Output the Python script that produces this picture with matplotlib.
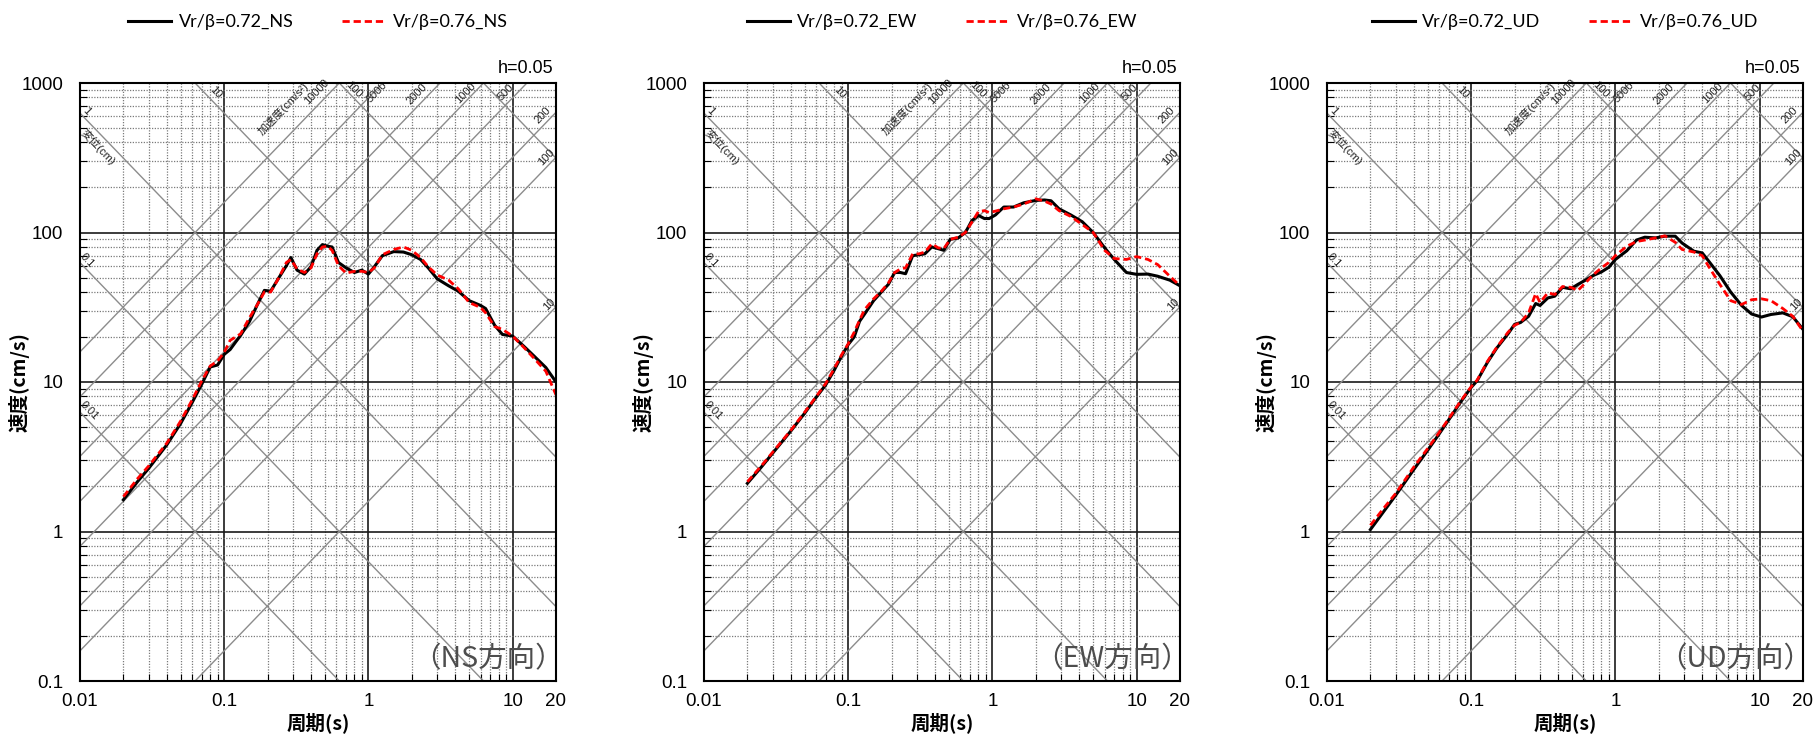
import numpy as np
import matplotlib
matplotlib.use("Agg")
import matplotlib.pyplot as plt
from matplotlib.ticker import FixedLocator, FixedFormatter, LogLocator, NullFormatter

plt.rcParams['font.family'] = ['Liberation Sans', 'Noto Sans CJK JP', 'DejaVu Sans']

# pseudo velocity response spectra, period (s) / velocity (cm/s)
ns_t = [0.02, 0.025, 0.03, 0.04, 0.05, 0.06, 0.07, 0.08, 0.09, 0.1, 0.11, 0.12, 0.13, 0.15, 0.17,
        0.19, 0.21, 0.24, 0.27, 0.29, 0.32, 0.36, 0.4, 0.44, 0.48, 0.52, 0.56, 0.62, 0.7, 0.8,
        0.9, 1.0, 1.1, 1.25, 1.5, 1.75, 2.0, 2.3, 2.6, 3.0, 3.6, 4.2, 5.0, 6.0, 6.5,
        7.5, 8.5, 10, 12, 14, 17, 20]
ns_v072 = [1.63, 2.15, 2.65, 3.8, 5.3, 7.3, 9.7, 12.6, 13.0, 15.3, 16.5, 18.5, 20.5, 25.5, 33,
           41, 40.5, 50, 60, 68, 56, 52.7, 59, 76, 83, 81, 80, 63, 58, 54,
           56, 52.7, 59, 70, 74.5, 74, 71, 66, 58, 49, 44, 40.5, 35, 32.5, 31,
           24, 20.8, 20.3, 17.3, 15, 12.5, 10]
ns_v076 = [1.71, 2.25, 2.75, 3.9, 5.5, 7.6, 10.2, 12.8, 13.8, 15.8, 19, 20, 21, 27, 33,
           40, 40, 50, 63, 66, 57, 54, 58, 72, 80, 81, 76, 60, 53.5, 55,
           55, 54, 58, 71, 77, 80, 76, 68, 59, 52, 48, 42, 34, 31.5, 29,
           23.5, 22.5, 20.3, 17, 14.5, 11.8, 8.2]

ew_t = [0.02, 0.025, 0.03, 0.04, 0.05, 0.06, 0.07, 0.08, 0.09, 0.1, 0.11, 0.12, 0.13, 0.15, 0.17,
        0.19, 0.21, 0.23, 0.25, 0.28, 0.31, 0.34, 0.38, 0.42, 0.46, 0.51, 0.58, 0.65, 0.72, 0.8,
        0.88, 0.95, 1.05, 1.2, 1.4, 1.65, 2.0, 2.3, 2.55, 2.9, 3.5, 4.2, 5.0, 6.0, 7.0,
        8.5, 10, 12, 14, 17, 20]
ew_v072 = [2.1, 2.7, 3.35, 4.7, 6.2, 7.9, 9.6, 12.0, 14.9, 17.8, 20, 25.5, 28.5, 35, 40,
           45, 54, 54, 53, 70, 71, 72, 80, 78, 76, 90, 92, 100, 120, 130,
           124, 124, 131, 148, 148, 158, 164, 165, 163, 144, 131, 118, 100, 79, 66,
           54, 52.5, 52.7, 51, 48, 44]
ew_v076 = [2.15, 2.75, 3.4, 4.75, 6.3, 8.0, 9.8, 12.3, 15.2, 18, 21.5, 26, 30.5, 36, 40.5,
           46, 54, 57, 58, 72, 72, 74, 84, 79, 78, 90, 93, 100, 117, 138,
           140, 136, 139, 144, 148, 155, 168, 162, 155, 140, 128, 113, 100, 76, 67,
           66, 69, 66, 61, 51, 44]

ud_t = [0.02, 0.025, 0.03, 0.04, 0.05, 0.06, 0.07, 0.08, 0.09, 0.1, 0.11, 0.13, 0.15, 0.18, 0.2,
        0.22, 0.25, 0.28, 0.3, 0.34, 0.38, 0.43, 0.49, 0.55, 0.62, 0.7, 0.8, 0.9, 1.0, 1.2,
        1.4, 1.6, 1.9, 2.2, 2.6, 2.9, 3.5, 4.0, 4.4, 5.3, 6.3, 7.5, 8.8, 10.3, 12,
        14.5, 17, 20]
ud_v072 = [1.03, 1.38, 1.75, 2.6, 3.5, 4.5, 5.6, 6.8, 8.0, 9.2, 10.2, 13.6, 16.8, 21, 24.3,
           25, 27.5, 33.5, 32.5, 36.5, 37.5, 43, 42, 45, 48, 51.5, 54.5, 58.5, 66, 75.5,
           89, 93, 92, 94.5, 94.5, 85, 75, 73, 65, 51.5, 40, 32.5, 28.5, 27.2, 28.3,
           29, 27.3, 22.5]
ud_v076 = [1.1, 1.45, 1.8, 2.7, 3.6, 4.6, 5.7, 6.9, 8.1, 9.3, 10.3, 13.8, 17, 21.5, 24,
           25, 29, 39, 34, 39.5, 38.5, 43.5, 43, 41, 46, 52, 58, 63, 70, 81,
           87, 89, 92, 95, 86, 77, 74, 70, 60, 45, 35, 33, 35.5, 36, 35,
           31, 27.5, 21.9]

# tripartite guide lines
disp_lines = [0.01, 0.1, 1, 10, 100, 1000]               # cm
acc_lines = [10, 100, 200, 500, 1000, 2000, 5000, 10000]  # cm/s2

# line labels: value, offset in px from where the line enters the frame (right, down)
disp_left_labels = [(1, 6, -2), (0.1, 7, -2), (0.01, 9, -2)]
disp_top_labels = [(10, 20, 9), (100, 14, 7)]
acc_top_labels = [(10000, -23, 9), (5000, -6, 9), (2000, -23, 11), (1000, -18, 10), (500, -21, 9)]
acc_right_labels = [(200, -13, 3), (100, -10, 0), (10, -7, -2)]

x_ticks = [0.01, 0.1, 1, 10, 20]
x_labels = ['0.01', '0.1', '1', '10', '20']
y_ticks = [0.1, 1, 10, 100, 1000]
y_labels = ['0.1', '1', '10', '100', '1000']

panels = [('NS', ns_t, ns_v072, ns_v076),
          ('EW', ew_t, ew_v072, ew_v076),
          ('UD', ud_t, ud_v072, ud_v076)]

W, H = 1815, 734
ax_left = [80, 704, 1327]
ax_w, ax_b, ax_h = 476, 53, 598
dec_x = ax_w / np.log10(2000)
dec_y = ax_h / 4
ang = np.degrees(np.arctan(dec_y / dec_x))


def v_disp(d, t):
    return 2 * np.pi * d / np.asarray(t, dtype=float)


def v_acc(a, t):
    return a * np.asarray(t, dtype=float) / (2 * np.pi)


def put_label(ax, text, t, v, dx, dy, rot, size=8):
    # dx, dy in pixels (right, down) from the point (t, v)
    ax.text(t * 10 ** (dx / dec_x), v / 10 ** (dy / dec_y), text, ha='center', va='center',
            rotation=rot, rotation_mode='anchor', fontsize=size, color='#222222',
            clip_on=False, zorder=3)


fig = plt.figure(figsize=(W / 100, H / 100), dpi=100)
t_edge = np.array([0.01, 20.0])

for left, (comp, t, v72, v76) in zip(ax_left, panels):
    ax = fig.add_axes([left / W, ax_b / H, ax_w / W, ax_h / H])
    ax.set_xscale('log')
    ax.set_yscale('log')
    ax.set_xlim(0.01, 20)
    ax.set_ylim(0.1, 1000)

    for d in disp_lines:
        ax.plot(t_edge, v_disp(d, t_edge), color='#8c8c8c', lw=1.0, zorder=1.5)
    for a in acc_lines:
        ax.plot(t_edge, v_acc(a, t_edge), color='#8c8c8c', lw=1.0, zorder=1.5)

    for d, dx, dy in disp_left_labels:
        put_label(ax, f'{d:g}', 0.01, v_disp(d, 0.01), dx, dy, -ang)
    for d, dx, dy in disp_top_labels:
        te = 2 * np.pi * d / 1000
        put_label(ax, f'{d:g}', te, 1000, dx, dy, -ang)
    put_label(ax, '変位(cm)', 0.01, v_disp(1, 0.01), 18, 34, -ang)
    for a, dx, dy in acc_top_labels:
        te = 2 * np.pi * 1000 / a
        put_label(ax, f'{a:g}', te, 1000, dx, dy, ang)
    for a, dx, dy in acc_right_labels:
        put_label(ax, f'{a:g}', 20, v_acc(a, 20), dx, dy, ang)
    put_label(ax, '加速度(cm/s²)', 2 * np.pi * 1000 / 10000, 1000, -56, 26, ang)

    h1, = ax.plot(t, v72, color='black', lw=2.2, zorder=4, label=f'Vr/β=0.72_{comp}')
    h2, = ax.plot(t, v76, color='red', lw=2.0, ls=(0, (2.6, 1.4)), zorder=5,
                  label=f'Vr/β=0.76_{comp}')

    ax.xaxis.set_major_locator(FixedLocator(x_ticks))
    ax.xaxis.set_major_formatter(FixedFormatter(x_labels))
    ax.yaxis.set_major_locator(FixedLocator(y_ticks))
    ax.yaxis.set_major_formatter(FixedFormatter(y_labels))
    ax.xaxis.set_minor_locator(LogLocator(base=10, subs=np.arange(2, 10)))
    ax.yaxis.set_minor_locator(LogLocator(base=10, subs=np.arange(2, 10)))
    ax.xaxis.set_minor_formatter(NullFormatter())
    ax.yaxis.set_minor_formatter(NullFormatter())

    ax.set_axisbelow(True)
    ax.grid(which='minor', color='#7a7a7a', lw=0.9, ls=(0, (1, 1.2)))
    ax.grid(which='major', color='#1a1a1a', lw=1.2)
    ax.tick_params(which='major', length=0, labelsize=13.5)
    ax.tick_params(axis='x', which='major', pad=9)
    ax.tick_params(axis='y', which='major', pad=12)
    ax.tick_params(which='minor', direction='in', length=5, width=0.8)
    for s in ax.spines.values():
        s.set_linewidth(1.5)
        s.set_zorder(6)

    ax.set_xlabel('周期(s)', family=['Noto Sans CJK JP'], fontsize=14,
                  fontweight='bold', labelpad=1)
    ax.set_ylabel('速度(cm/s)', family=['Noto Sans CJK JP'], fontsize=14,
                  fontweight='bold')
    ax.yaxis.set_label_coords(-0.105, 0.5)

    ax.annotate('h=0.05', (1, 1), xycoords='axes fraction', xytext=(-3, 10),
                textcoords='offset pixels', ha='right', va='baseline', fontsize=13)
    ax.text(0.858, 0.036, f'（{comp}方向）', transform=ax.transAxes, ha='center',
            va='center', fontsize=20.5, color='#4d4d4d', family=['Noto Sans CJK JP'],
            zorder=7)

    fig.legend(handles=[h1, h2], loc='center',
               bbox_to_anchor=((left + ax_w / 2) / W, 1 - 22 / H), ncol=2, frameon=False,
               prop={'family': ['Lato', 'DejaVu Sans'], 'size': 13},
               handlelength=2.4, handletextpad=0.4, columnspacing=2.7)

fig.savefig('out.png', dpi=100)
